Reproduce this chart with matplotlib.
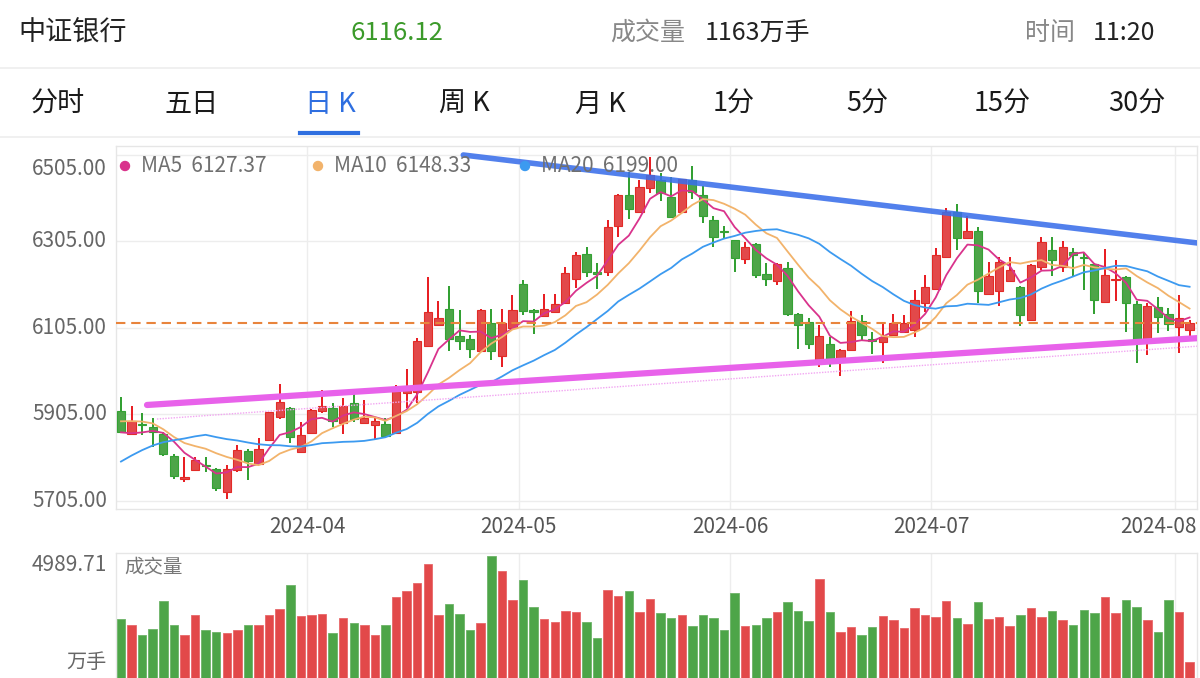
import numpy as np
import pandas as pd
import matplotlib
matplotlib.use('Agg')
import matplotlib.pyplot as plt
import matplotlib.transforms as mtransforms
from matplotlib.patches import Ellipse

plt.rcParams['font.family'] = ['Noto Sans CJK SC', 'DejaVu Sans']

W, H = 1200, 678

# daily K data, 2024-03-06 .. 2024-08-02 (index = trading day)
opens = [5912, 5858, 5883, 5876, 5859, 5809, 5756, 5776, 5787, 5779,
         5726, 5776, 5820, 5790, 5845, 5899, 5919, 5818, 5861, 5913,
         5919, 5884, 5930, 5884, 5880, 5882, 5861, 5955, 5957, 6063,
         6112, 6148, 6085, 6079, 6052, 6115, 6040, 6104, 6206, 6146,
         6132, 6142, 6162, 6219, 6276, 6233, 6233, 6341, 6412, 6372,
         6428, 6447, 6408, 6374, 6447, 6412, 6355, 6330, 6308, 6264,
         6299, 6230, 6214, 6243, 6138, 6119, 6027, 6067, 6034, 6054,
         6121, 6078, 6073, 6088, 6096, 6101, 6163, 6194, 6268, 6374,
         6312, 6330, 6184, 6189, 6214, 6200, 6123, 6246, 6284, 6246,
         6281, 6270, 6253, 6165, 6216, 6223, 6160, 6073, 6152, 6137,
         6106, 6101]
highs = [5944, 5925, 5908, 5895, 5864, 5812, 5807, 5805, 5807, 5781,
         5787, 5834, 5825, 5851, 5911, 5976, 5921, 5886, 5917, 5960,
         5930, 5942, 5951, 5938, 5899, 5895, 5972, 6010, 6082, 6223,
         6168, 6202, 6146, 6088, 6148, 6148, 6148, 6180, 6216, 6148,
         6183, 6183, 6246, 6281, 6291, 6256, 6355, 6414, 6466, 6448,
         6501, 6464, 6455, 6450, 6480, 6433, 6364, 6341, 6309, 6304,
         6302, 6254, 6256, 6258, 6139, 6127, 6111, 6084, 6055, 6145,
         6135, 6096, 6114, 6137, 6135, 6192, 6227, 6289, 6382, 6392,
         6364, 6339, 6258, 6268, 6268, 6201, 6253, 6314, 6316, 6307,
         6289, 6279, 6256, 6287, 6263, 6225, 6168, 6162, 6177, 6150,
         6181, 6123]
lows = [5862, 5857, 5857, 5830, 5808, 5754, 5748, 5774, 5772, 5728,
        5708, 5770, 5753, 5789, 5844, 5893, 5838, 5814, 5860, 5907,
        5876, 5859, 5888, 5882, 5845, 5854, 5859, 5919, 5930, 6062,
        6108, 6051, 6054, 6034, 6051, 6030, 6015, 6103, 6135, 6091,
        6131, 6141, 6161, 6196, 6222, 6194, 6225, 6314, 6356, 6371,
        6418, 6399, 6358, 6373, 6402, 6347, 6293, 6312, 6233, 6253,
        6220, 6202, 6204, 6132, 6057, 6055, 6015, 6015, 5993, 6052,
        6077, 6044, 6024, 6087, 6092, 6084, 6142, 6193, 6267, 6285,
        6311, 6162, 6181, 6155, 6212, 6108, 6122, 6239, 6225, 6235,
        6225, 6192, 6137, 6164, 6168, 6096, 6024, 6042, 6092, 6098,
        6047, 6084]
closes = [5863, 5889, 5880, 5863, 5813, 5763, 5759, 5799, 5784, 5733,
          5777, 5821, 5797, 5824, 5909, 5934, 5853, 5857, 5915, 5924,
          5890, 5924, 5893, 5895, 5890, 5855, 5967, 5969, 6074, 6142,
          6127, 6078, 6074, 6056, 6146, 6052, 6115, 6146, 6143, 6141,
          6148, 6160, 6231, 6273, 6233, 6230, 6338, 6412, 6379, 6430,
          6459, 6416, 6362, 6449, 6420, 6364, 6314, 6327, 6266, 6291,
          6228, 6217, 6253, 6137, 6111, 6067, 6086, 6032, 6054, 6121,
          6088, 6075, 6084, 6115, 6117, 6169, 6200, 6274, 6374, 6312,
          6328, 6191, 6225, 6258, 6239, 6135, 6250, 6304, 6262, 6291,
          6274, 6267, 6169, 6227, 6219, 6162, 6073, 6156, 6131, 6114,
          6127, 6116.12]
volumes = [2700, 2492, 2118, 2353, 3351, 2506, 2146, 2839, 2326, 2243,
           2201, 2298, 2506, 2492, 2852, 3074, 3947, 2825, 2839, 2894,
           2187, 2742, 2561, 2492, 2118, 2478, 3518, 3712, 4003, 4710,
           2852, 3254, 2880, 2326, 2561, 4989.71, 4460, 3407, 4114, 3143,
           2714, 2617, 3005, 2977, 2589, 2035, 3767, 3559, 3712, 2963,
           3421, 2936, 2728, 2852, 2437, 2839, 2728, 2312, 3656, 2437,
           2478, 2728, 2977, 3324, 3005, 2645, 4141, 2963, 2243, 2423,
           2146, 2423, 2811, 2686, 2367, 3102, 2866, 2769, 3351, 2728,
           2534, 3324, 2700, 2769, 2437, 2866, 3102, 2797, 2991, 2686,
           2506, 3033, 2936, 3490, 2936, 3407, 3157, 2686, 2243, 3379,
           2950, 1163]
# closes before the window (only feed the moving averages)
prior_closes = [5610, 5630, 5650, 5660, 5670, 5680, 5700, 5712,
                5840, 5870, 5885, 5890, 5905, 5950, 5940,
                5900, 5870, 5845, 5837]

month_labels = ['2024-04', '2024-05', '2024-06', '2024-07', '2024-08']
month_start_idx = [18, 38, 58, 77, 100]
price_ticks = [6505, 6305, 6105, 5905, 5705]
last_price = 6116.12
vol_max_label = '4989.71'

ma_periods = [5, 10, 20]
ma_labels = ['MA5  6127.37', 'MA10  6148.33', 'MA20  6199.00']
ma_colors = ['#D9338C', '#F2B36B', '#3C9AF0']

# hand drawn trend lines (index, price)
trend_upper = ([32.35, 101.98], [6505, 6300.6])
trend_lower = ([2.46, 101.98], [5926.3, 6081.4])
trend_lower_thin = ([3.4, 101.98], [5893.8, 6062.8])

tabs = ['分时', '五日', '日 K', '周 K', '月 K', '1分', '5分', '15分', '30分']
tab_x = [58, 192, 330, 464, 600, 734, 867, 1002, 1137]

RED, RED_EDGE, RED_WICK = '#E2494A', '#E22B27', '#E8191E'
GREEN, GREEN_EDGE, GREEN_WICK = '#4DA548', '#34A234', '#2E9E2E'
LABEL_FS = 15


def fx(x):
    return x / W


def fy(y):
    return 1 - y / H


fig = plt.figure(figsize=(12, 6.78), dpi=100)
fig.patch.set_facecolor('white')

# ---- header
fig.text(fx(18), fy(33), '中证银行', fontsize=19.5, color='#222222', va='center')
fig.text(fx(397), fy(33), '6116.12', fontsize=18.5, color='#3B9A2A', va='center', ha='center')
fig.text(fx(610), fy(33), '成交量', fontsize=18, color='#888888', va='center')
fig.text(fx(705), fy(33), '1163万手', fontsize=18, color='#222222', va='center')
fig.text(fx(1025), fy(33), '时间', fontsize=18, color='#888888', va='center')
fig.text(fx(1093), fy(33), '11:20', fontsize=18, color='#222222', va='center')
fig.add_artist(plt.Line2D([0, 1], [fy(68), fy(68)], color='#EEEEEE', lw=1.2))

for name, x in zip(tabs, tab_x):
    col = '#2F6FE0' if name == '日 K' else '#1A1A1A'
    fig.text(fx(x), fy(104), name, fontsize=19.5, color=col, va='center', ha='center')
fig.add_artist(plt.Line2D([fx(300), fx(358)], [fy(133), fy(133)], color='#2F6FE0', lw=3))
fig.add_artist(plt.Line2D([0, 1], [fy(137), fy(137)], color='#EEEEEE', lw=1.2))

# ---- price panel
left, right = 115.7, 1197
ax = fig.add_axes([fx(left), fy(509), (right - left) / W, (509 - 146) / H])
axv = fig.add_axes([fx(left), fy(693.8), (right - left) / W, (693.8 - 553) / H])

n = len(closes)
x = np.arange(n)
o, h, l, c = map(np.array, (opens, highs, lows, closes))
up = c >= o

for a in (ax, axv):
    a.set_xlim(-0.5, 101.7)
    a.set_xticks([])
    a.set_yticks([])
    for s in a.spines.values():
        s.set_color('#E6E6E6')
        s.set_linewidth(1)
    for m in month_start_idx:
        a.axvline(m - 0.4, color='#EDEDED', lw=1, zorder=0)

ax.set_ylim(5685.5, 6525.8)
for p in price_ticks:
    ax.axhline(p, color='#EDEDED', lw=1, zorder=0)

trans_y = mtransforms.blended_transform_factory(ax.transAxes, ax.transData)
for k, p in enumerate(price_ticks):
    va = 'top' if k == 0 else 'center'
    yy = p - 6 if k == 0 else p
    ax.text(-0.008, yy, f'{p:.2f}', transform=trans_y, ha='right', va=va,
            fontsize=LABEL_FS, color='#666666')

trans_x = mtransforms.blended_transform_factory(ax.transData, ax.transAxes)
for k, (lab, m) in enumerate(zip(month_labels, month_start_idx)):
    if k == len(month_labels) - 1:
        ax.text(1.0, -0.05, lab, transform=ax.transAxes, ha='right', va='center',
                fontsize=LABEL_FS, color='#555555')
    else:
        ax.text(m - 0.4, -0.05, lab, transform=trans_x, ha='center', va='center',
                fontsize=LABEL_FS, color='#555555')

# candles
wick_cols = np.where(up, RED_WICK, GREEN_WICK)
body_cols = np.where(up, RED, GREEN)
edge_cols = np.where(up, RED_EDGE, GREEN_EDGE)
ax.vlines(x, l, h, colors=wick_cols, lw=1.4, zorder=3)
body_h = np.maximum(np.abs(c - o), 3)
body_b = np.minimum(o, c)
ax.bar(x, body_h, bottom=body_b, width=0.78, color=body_cols,
       edgecolor=edge_cols, lw=0.8, zorder=4)

# moving averages
all_close = pd.Series(prior_closes + list(closes), dtype=float)
for per, col in zip(ma_periods, ma_colors):
    ma = all_close.rolling(per).mean().iloc[len(prior_closes):].to_numpy()
    ax.plot(x, ma, color=col, lw=1.3, zorder=5)

ax.axhline(last_price, color='#E8843C', lw=1.5, ls=(0, (4.5, 2.8)), zorder=5)

# trend lines
ax.plot(*trend_lower_thin, color='#F2A6F2', lw=1.0, ls=(0, (1, 1)), zorder=6)
ax.plot(*trend_lower, color='#E862EA', lw=4.5, solid_capstyle='round', zorder=6)
ax.plot(*trend_upper, color='#3A6FEA', lw=4, alpha=0.88, solid_capstyle='round', zorder=6)

# legend of moving averages
for (dx, tx), lab, col in zip([(125, 141), (318, 334), (525, 541)], ma_labels, ma_colors):
    fig.add_artist(Ellipse((fx(dx), fy(166)), 9 / W, 9 / H, transform=fig.transFigure,
                           color=col, zorder=7))
    fig.text(fx(tx), fy(166), lab, fontsize=15, color='#707070', va='center', zorder=7)

# ---- volume panel
axv.set_ylim(0, 5098)
vol_cols = np.where(up, RED, GREEN)
axv.bar(x, volumes, width=0.8, color=vol_cols, edgecolor=np.where(up, '#E8686A', '#6DB468'),
        lw=0.6, zorder=3)
axv.spines['bottom'].set_visible(False)
fig.text(fx(107), fy(565), vol_max_label, fontsize=LABEL_FS, color='#666666', ha='right', va='center')
fig.text(fx(107), fy(663), '万手', fontsize=14.5, color='#666666', ha='right', va='center')
fig.text(fx(124), fy(568), '成交量', fontsize=14, color='#777777', va='center', zorder=7)

fig.savefig('out.png', dpi=100, facecolor='white')
